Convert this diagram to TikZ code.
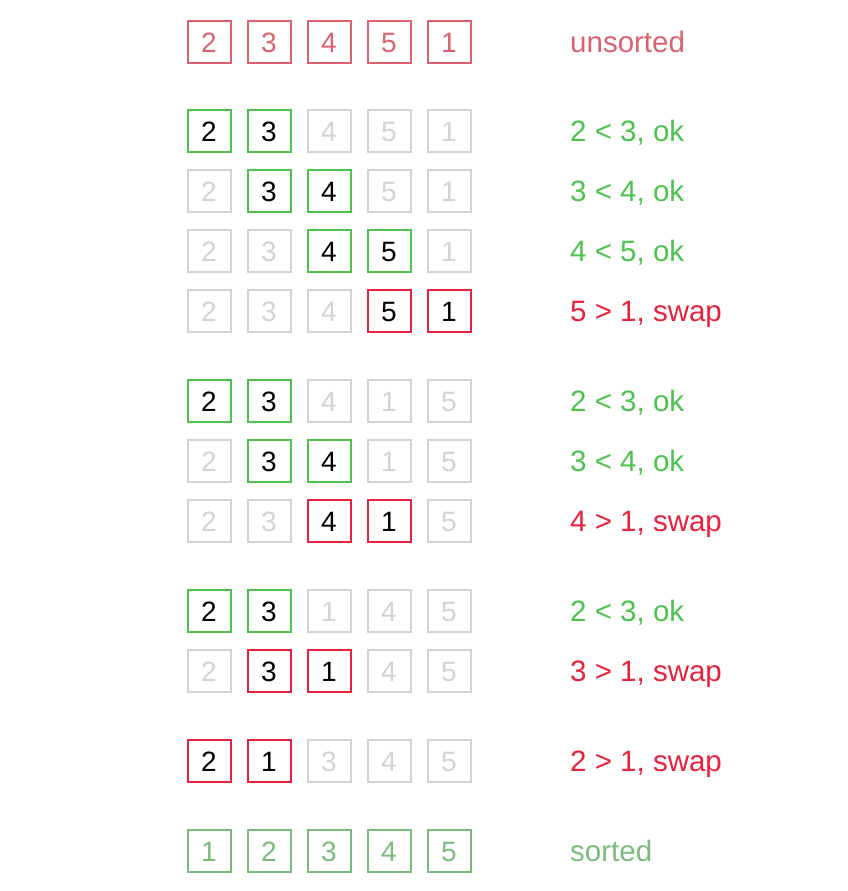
\documentclass[tikz,border=0pt]{standalone}
\usepackage{fontspec}
\setmainfont{Liberation Sans}
\usetikzlibrary{positioning}
\definecolor{unsortedred}{HTML}{DA6170}
\definecolor{okgreen}{HTML}{4CC34C}
\definecolor{swapred}{HTML}{E8213D}
\definecolor{idlegray}{HTML}{D3D3D3}
\definecolor{sortedgreen}{HTML}{7BBB7B}

\begin{document}
\begin{tikzpicture}[x=1pt,y=1pt,
  cell/.style={draw,line width=2pt,minimum width=43pt,minimum height=42pt,inner sep=0pt,
    font=\fontsize{28}{33}\selectfont,text height=21pt,text depth=0pt},
  start/.style={cell,draw=unsortedred,text=unsortedred},
  idle/.style={cell,draw=idlegray,text=idlegray},
  okcmp/.style={cell,draw=okgreen,text=black},
  swapcmp/.style={cell,draw=swapred,text=black},
  done/.style={cell,draw=sortedgreen,text=sortedgreen},
  lab/.style={anchor=west,inner sep=0pt,font=\fontsize{29.5}{35}\selectfont,text height=21pt,text depth=0pt}]
\useasboundingbox (0,0) rectangle (847,-891);
% unsorted input
\node[start] (a1) at (209,-42) {2};
\node[start] (a2) at (269,-42) {3};
\node[start] (a3) at (329,-42) {4};
\node[start] (a4) at (389,-42) {5};
\node[start] (a5) at (449,-42) {1};
\node[lab,text=unsortedred] (alab) at (570,-42) {unsorted};
% first pass
\node[okcmp] (b1) at (209,-131) {2};
\node[okcmp] (b2) at (269,-131) {3};
\node[idle] (b3) at (329,-131) {4};
\node[idle] (b4) at (389,-131) {5};
\node[idle] (b5) at (449,-131) {1};
\node[lab,text=okgreen] (blab) at (570,-131) {2 < 3, ok};
\node[idle] (c1) at (209,-191) {2};
\node[okcmp] (c2) at (269,-191) {3};
\node[okcmp] (c3) at (329,-191) {4};
\node[idle] (c4) at (389,-191) {5};
\node[idle] (c5) at (449,-191) {1};
\node[lab,text=okgreen] (clab) at (570,-191) {3 < 4, ok};
\node[idle] (d1) at (209,-251) {2};
\node[idle] (d2) at (269,-251) {3};
\node[okcmp] (d3) at (329,-251) {4};
\node[okcmp] (d4) at (389,-251) {5};
\node[idle] (d5) at (449,-251) {1};
\node[lab,text=okgreen] (dlab) at (570,-251) {4 < 5, ok};
\node[idle] (e1) at (209,-311) {2};
\node[idle] (e2) at (269,-311) {3};
\node[idle] (e3) at (329,-311) {4};
\node[swapcmp] (e4) at (389,-311) {5};
\node[swapcmp] (e5) at (449,-311) {1};
\node[lab,text=swapred] (elab) at (570,-311) {5 > 1, swap};
% second pass
\node[okcmp] (f1) at (209,-401) {2};
\node[okcmp] (f2) at (269,-401) {3};
\node[idle] (f3) at (329,-401) {4};
\node[idle] (f4) at (389,-401) {1};
\node[idle] (f5) at (449,-401) {5};
\node[lab,text=okgreen] (flab) at (570,-401) {2 < 3, ok};
\node[idle] (g1) at (209,-461) {2};
\node[okcmp] (g2) at (269,-461) {3};
\node[okcmp] (g3) at (329,-461) {4};
\node[idle] (g4) at (389,-461) {1};
\node[idle] (g5) at (449,-461) {5};
\node[lab,text=okgreen] (glab) at (570,-461) {3 < 4, ok};
\node[idle] (h1) at (209,-521) {2};
\node[idle] (h2) at (269,-521) {3};
\node[swapcmp] (h3) at (329,-521) {4};
\node[swapcmp] (h4) at (389,-521) {1};
\node[idle] (h5) at (449,-521) {5};
\node[lab,text=swapred] (hlab) at (570,-521) {4 > 1, swap};
% third pass
\node[okcmp] (i1) at (209,-611) {2};
\node[okcmp] (i2) at (269,-611) {3};
\node[idle] (i3) at (329,-611) {1};
\node[idle] (i4) at (389,-611) {4};
\node[idle] (i5) at (449,-611) {5};
\node[lab,text=okgreen] (ilab) at (570,-611) {2 < 3, ok};
\node[idle] (j1) at (209,-671) {2};
\node[swapcmp] (j2) at (269,-671) {3};
\node[swapcmp] (j3) at (329,-671) {1};
\node[idle] (j4) at (389,-671) {4};
\node[idle] (j5) at (449,-671) {5};
\node[lab,text=swapred] (jlab) at (570,-671) {3 > 1, swap};
% fourth pass
\node[swapcmp] (k1) at (209,-761) {2};
\node[swapcmp] (k2) at (269,-761) {1};
\node[idle] (k3) at (329,-761) {3};
\node[idle] (k4) at (389,-761) {4};
\node[idle] (k5) at (449,-761) {5};
\node[lab,text=swapred] (klab) at (570,-761) {2 > 1, swap};
% sorted result
\node[done] (m1) at (209,-851) {1};
\node[done] (m2) at (269,-851) {2};
\node[done] (m3) at (329,-851) {3};
\node[done] (m4) at (389,-851) {4};
\node[done] (m5) at (449,-851) {5};
\node[lab,text=sortedgreen] (mlab) at (570,-851) {sorted};
\end{tikzpicture}
\end{document}
